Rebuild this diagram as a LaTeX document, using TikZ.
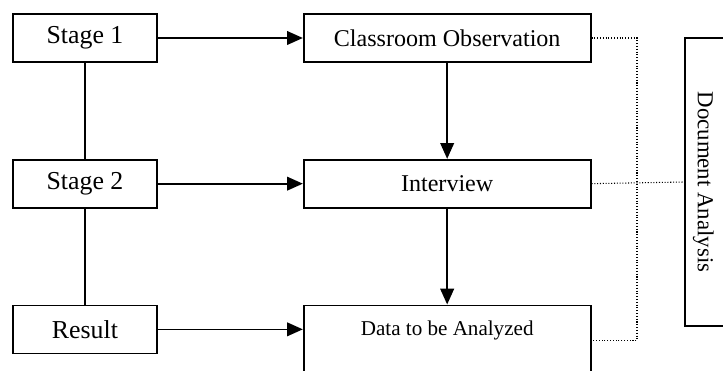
\documentclass[tikz,border=0pt]{standalone}
\usepackage{fontspec}
\setmainfont{Liberation Serif}
\usetikzlibrary{positioning,arrows.meta,calc}

\begin{document}
\begin{tikzpicture}[node distance=1.92cm and 2.9cm,
    stagebox/.style={draw, line width=0.95pt, minimum width=2.88cm, minimum height=0.96cm, font=\fontsize{14.7}{16}\selectfont},
    workbox/.style={draw, line width=0.95pt, minimum width=5.74cm, minimum height=0.96cm, font=\fontsize{13.7}{16}\selectfont},
    flow/.style={line width=0.95pt, -{Triangle[length=9pt,width=7.8pt]}},
    link/.style={line width=0.95pt},
    source/.style={densely dotted, line width=0.6pt}]

    % Frame
    \useasboundingbox (0,0) rectangle (14.46,7.42);

    % Stages
    \node[stagebox] (stage1) at (1.70,6.66) {Stage 1};
    \node[stagebox, below=of stage1] (stage2) {Stage 2};
    \node[stagebox, below=of stage2] (result) {Result};

    % Methods
    \node[workbox, right=of stage1] (classroom) {Classroom Observation};
    \node[workbox, below=of classroom] (interview) {Interview};
    \node[workbox, below=of interview, text height=0.3cm, text depth=1cm, inner ysep=0.3cm, font=\fontsize{12}{14}\selectfont] (data) {Data to be Analyzed};

    % Document analysis
    \node[draw, line width=0.95pt, rotate=-90, anchor=south, minimum width=5.76cm, text height=1cm, text depth=0.1cm, inner ysep=0.16cm, font=\fontsize{13}{15}\selectfont] (document) at (13.68,3.78) {Document Analysis};
    \coordinate (split) at (12.74,0);
    \coordinate (dataside) at ($(data.north east)+(0,-0.72)$);

    % Connectors
    \draw[link] (stage1) -- (stage2);
    \draw[link] (stage2) -- (result);
    \draw[flow] (stage1) -- (classroom);
    \draw[flow] (stage2) -- (interview);
    \draw[flow] (result.east) -- (result.east -| data.west);
    \draw[flow] (classroom) -- (interview);
    \draw[flow] (interview) -- (data);

    % Dotted links
    \draw[source] (classroom.east) -- (classroom.east -| split) -- (dataside -| split) -- (dataside);
    \draw[source] (interview.east) -- (document.south);

\end{tikzpicture}
\end{document}
